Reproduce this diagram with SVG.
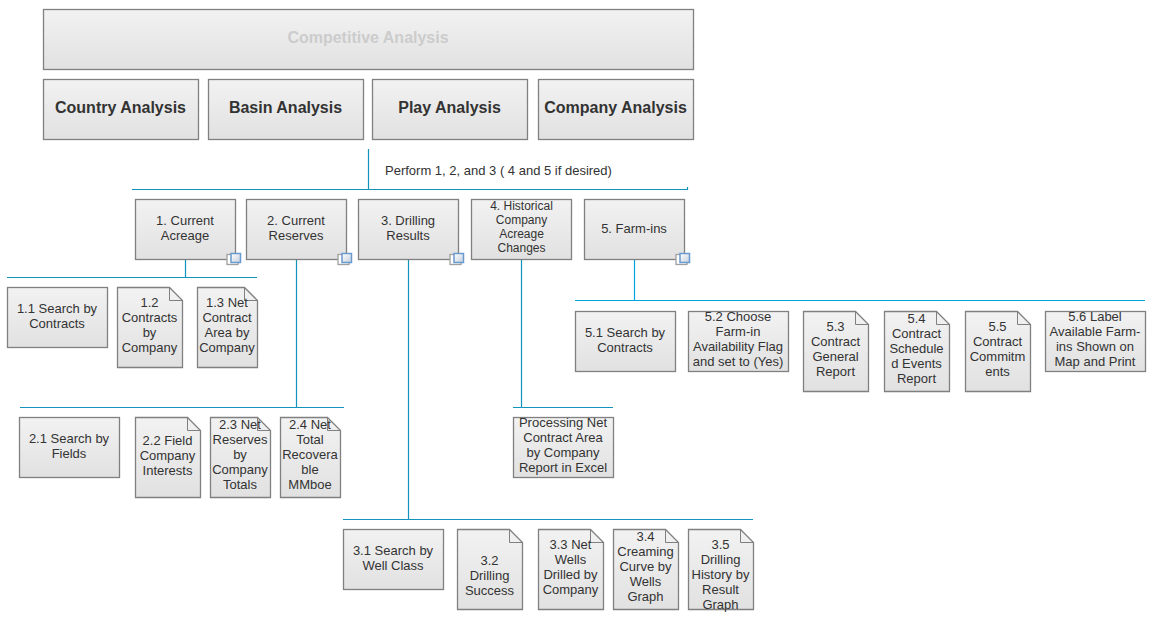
<svg xmlns="http://www.w3.org/2000/svg" xmlns:xlink="http://www.w3.org/1999/xlink" width="1156" height="624" viewBox="0 0 1156 624">
<style>
text{font-family:"Liberation Sans",Arial,sans-serif;font-size:13px;fill:#333;text-anchor:middle}
.b{fill:url(#g);stroke:#808080;stroke-width:1.3}
.f{fill:none;stroke:#808080;stroke-width:1}
.h{font-size:16px;font-weight:bold}
.t{fill:#ccc}
.s{font-size:12px}
.l{text-anchor:start}
#conn path{fill:none;stroke:#1193bd;stroke-width:1.2}
#conn path.c5{stroke:#00a5dc}
</style>
<defs>
<linearGradient id="g" x1="0" y1="0" x2="0" y2="1"><stop offset="0" stop-color="#f2f2f2"/><stop offset="1" stop-color="#e1e1e1"/></linearGradient>
<linearGradient id="ic" x1="0" y1="0" x2="1" y2="1"><stop offset="0" stop-color="#fff"/><stop offset="1" stop-color="#c5cfdd"/></linearGradient>
<g id="icon"><rect x="-8.500" y="-5" width="11" height="10" fill="#fff" stroke="#a0a0a0" stroke-width="1.300"/><rect x="-4.500" y="-6" width="9.500" height="9" fill="url(#ic)" stroke="#6a9bd0" stroke-width="1.500"/></g>
</defs>
<g id="conn">
<path d="M368.5 149V189.5M132 189.5H687.500V187"/>
<path d="M185.500 260V277.500M7 277.500H257"/>
<path d="M296.500 260V407.500M20 407.500H344"/>
<path d="M408.500 260V519.500M343 519.500H753"/>
<path d="M521.500 260V407.500M513 407.500H613"/>
<path class="c5" d="M634.500 257V300.500M575 300.500H1145"/>
</g>
<g id="n0"><rect class="b" x="43.500" y="9.500" width="650" height="60"/><text class="h t" x="368" y="43">Competitive Analysis</text></g>
<g id="n1"><rect class="b" x="43.500" y="79.500" width="155" height="60"/><text class="h" x="120.500" y="113">Country Analysis</text></g>
<g id="n2"><rect class="b" x="208.500" y="79.500" width="155" height="60"/><text class="h" x="285.500" y="113">Basin Analysis</text></g>
<g id="n3"><rect class="b" x="372.500" y="79.500" width="155" height="60"/><text class="h" x="449.500" y="113">Play Analysis</text></g>
<g id="n4"><rect class="b" x="538.500" y="79.500" width="155" height="60"/><text class="h" x="615.500" y="113">Company Analysis</text></g>
<text class="l" x="385" y="175">Perform 1, 2, and 3 ( 4 and 5 if desired)</text>
<g id="p1"><rect class="b" x="135.500" y="199.500" width="100" height="60"/><text x="185" y="225">1. Current</text><text x="185" y="240">Acreage</text><use href="#icon" x="235.500" y="259.500"/></g>
<g id="p2"><rect class="b" x="246.500" y="199.500" width="100" height="60"/><text x="296" y="225">2. Current</text><text x="296" y="240">Reserves</text><use href="#icon" x="346.500" y="259.500"/></g>
<g id="p3"><rect class="b" x="358.500" y="199.500" width="100" height="60"/><text x="408" y="225">3. Drilling</text><text x="408" y="240">Results</text><use href="#icon" x="458.500" y="259.500"/></g>
<g id="p4"><rect class="b" x="471.500" y="199.500" width="100" height="60"/><text class="s" x="521.500" y="210">4. Historical</text><text class="s" x="521.500" y="224">Company</text><text class="s" x="521.500" y="238">Acreage</text><text class="s" x="521.500" y="252">Changes</text></g>
<g id="p5"><rect class="b" x="584.500" y="199.500" width="100" height="60"/><text x="634" y="233">5. Farm-ins</text><use href="#icon" x="684.500" y="259.500"/></g>
<g id="a11"><rect class="b" x="7.500" y="287.500" width="100" height="60"/><text x="57" y="313">1.1 Search by</text><text x="57" y="328">Contracts</text></g>
<g id="a12"><path class="b" d="M117.500 287.500H169.500L182.500 300.500V367.500H117.500Z"/><path class="f" d="M169.500 287.500V300.500H182.500"/><text x="149.500" y="307">1.2</text><text x="149.500" y="322">Contracts</text><text x="149.500" y="337">by</text><text x="149.500" y="352">Company</text></g>
<g id="a13"><path class="b" d="M197.500 287.500H244.500L257.500 300.500V367.500H197.500Z"/><path class="f" d="M244.500 287.500V300.500H257.500"/><text x="227" y="307">1.3 Net</text><text x="227" y="322">Contract</text><text x="227" y="337">Area by</text><text x="227" y="352">Company</text></g>
<g id="a21"><rect class="b" x="19.500" y="417.500" width="100" height="60"/><text x="69" y="443">2.1 Search by</text><text x="69" y="458">Fields</text></g>
<g id="a22"><path class="b" d="M135.500 417.500H187.500L200.500 430.500V497.500H135.500Z"/><path class="f" d="M187.500 417.500V430.500H200.500"/><text x="167.500" y="445">2.2 Field</text><text x="167.500" y="460">Company</text><text x="167.500" y="475">Interests</text></g>
<g id="a23"><path class="b" d="M210.500 417.500H257.500L270.500 430.500V497.500H210.500Z"/><path class="f" d="M257.500 417.500V430.500H270.500"/><text x="240" y="429">2.3 Net</text><text x="240" y="444">Reserves</text><text x="240" y="459">by</text><text x="240" y="474">Company</text><text x="240" y="489">Totals</text></g>
<g id="a24"><path class="b" d="M280.500 417.500H327.500L340.500 430.500V497.500H280.500Z"/><path class="f" d="M327.500 417.500V430.500H340.500"/><text x="310" y="429">2.4 Net</text><text x="310" y="444">Total</text><text x="310" y="459">Recovera</text><text x="310" y="474">ble</text><text x="310" y="489">MMboe</text></g>
<g id="a41"><rect class="b" x="513.500" y="417.500" width="100" height="60"/><text x="563" y="427">Processing Net</text><text x="563" y="442">Contract Area</text><text x="563" y="457">by Company</text><text x="563" y="472">Report in Excel</text></g>
<g id="a31"><rect class="b" x="343.500" y="529.500" width="100" height="60"/><text x="393" y="555">3.1 Search by</text><text x="393" y="570">Well Class</text></g>
<g id="a32"><path class="b" d="M457.500 529.500H509.500L522.500 542.500V609.500H457.500Z"/><path class="f" d="M509.500 529.500V542.500H522.500"/><text x="489.500" y="565">3.2</text><text x="489.500" y="580">Drilling</text><text x="489.500" y="595">Success</text></g>
<g id="a33"><path class="b" d="M538.500 529.500H590.500L603.500 542.500V609.500H538.500Z"/><path class="f" d="M590.500 529.500V542.500H603.500"/><text x="570.500" y="549">3.3 Net</text><text x="570.500" y="564">Wells</text><text x="570.500" y="579">Drilled by</text><text x="570.500" y="594">Company</text></g>
<g id="a34"><path class="b" d="M613.500 529.500H665.500L678.500 542.500V609.500H613.500Z"/><path class="f" d="M665.500 529.500V542.500H678.500"/><text x="645.500" y="541">3.4</text><text x="645.500" y="556">Creaming</text><text x="645.500" y="571">Curve by</text><text x="645.500" y="586">Wells</text><text x="645.500" y="601">Graph</text></g>
<g id="a35"><path class="b" d="M688.500 529.500H740.500L753.500 542.500V609.500H688.500Z"/><path class="f" d="M740.500 529.500V542.500H753.500"/><text x="720.500" y="549">3.5</text><text x="720.500" y="564">Drilling</text><text x="720.500" y="579">History by</text><text x="720.500" y="594">Result</text><text x="720.500" y="609">Graph</text></g>
<g id="a51"><rect class="b" x="575.500" y="311.500" width="100" height="60"/><text x="625" y="337">5.1 Search by</text><text x="625" y="352">Contracts</text></g>
<g id="a52"><rect class="b" x="688.500" y="311.500" width="100" height="60"/><text x="738" y="321">5.2 Choose</text><text x="738" y="336">Farm-in</text><text x="738" y="351">Availability Flag</text><text x="738" y="366">and set to (Yes)</text></g>
<g id="a53"><path class="b" d="M803.500 311.500H855.500L868.500 324.500V391.500H803.500Z"/><path class="f" d="M855.500 311.500V324.500H868.500"/><text x="835.500" y="331">5.3</text><text x="835.500" y="346">Contract</text><text x="835.500" y="361">General</text><text x="835.500" y="376">Report</text></g>
<g id="a54"><path class="b" d="M884.500 311.500H936.500L949.500 324.500V391.500H884.500Z"/><path class="f" d="M936.500 311.500V324.500H949.500"/><text x="916.500" y="323">5.4</text><text x="916.500" y="338">Contract</text><text x="916.500" y="353">Schedule</text><text x="916.500" y="368">d Events</text><text x="916.500" y="383">Report</text></g>
<g id="a55"><path class="b" d="M965.500 311.500H1017.500L1030.500 324.500V391.500H965.500Z"/><path class="f" d="M1017.500 311.500V324.500H1030.500"/><text x="997.500" y="331">5.5</text><text x="997.500" y="346">Contract</text><text x="997.500" y="361">Commitm</text><text x="997.500" y="376">ents</text></g>
<g id="a56"><rect class="b" x="1045.500" y="311.500" width="100" height="60"/><text x="1095" y="321">5.6 Label</text><text x="1095" y="336">Available Farm-</text><text x="1095" y="351">ins Shown on</text><text x="1095" y="366">Map and Print</text></g>
</svg>
